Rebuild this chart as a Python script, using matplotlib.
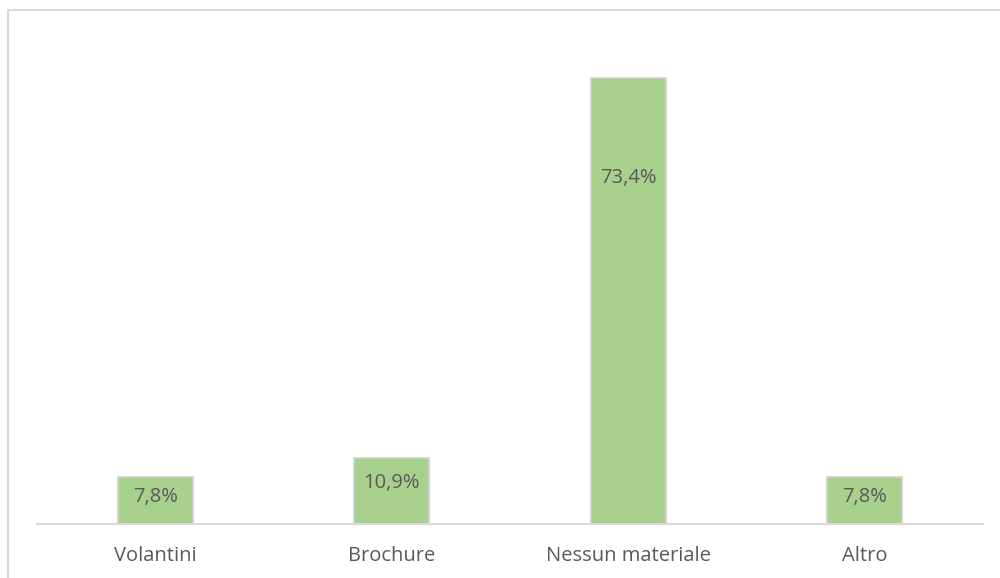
import matplotlib
matplotlib.use("Agg")
import matplotlib.pyplot as plt
from matplotlib.lines import Line2D

# Share of respondents by material received
categories = ["Volantini", "Brochure", "Nessun materiale", "Altro"]
values = [7.8, 10.9, 73.4, 7.8]
labels = ["7,8%", "10,9%", "73,4%", "7,8%"]
# vertical offset (points) of each value label below the bar top
label_offsets = [-15, -18, -72, -15]

TEXT = "#595959"
BAR = "#a9d18e"
GRID = "#d9d9d9"

plt.rcParams["font.family"] = ["Open Sans", "DejaVu Sans"]

fig = plt.figure(figsize=(10, 5.78), dpi=100)
ax = fig.add_axes([0.037, 1 - 524 / 578, 0.946, (524 - 37.9) / 578])

x = range(len(categories))
bars = ax.bar(x, values, width=0.317, color=BAR, edgecolor="#d0d0d0", linewidth=1.2)

for b, lab, off in zip(bars, labels, label_offsets):
    ax.annotate(lab, (b.get_x() + b.get_width() / 2, b.get_height()),
                xytext=(0, off), textcoords="offset points",
                ha="center", va="center", fontsize=14.5, color=TEXT)

ax.set_xlim(-0.5, len(categories) - 0.5)
ax.set_ylim(0, 80)
ax.set_xticks(list(x))
ax.set_xticklabels(categories, fontsize=14.5, color=TEXT)
ax.tick_params(axis="x", length=0, pad=16)
ax.set_yticks([])
for side in ("top", "right", "left"):
    ax.spines[side].set_visible(False)
ax.spines["bottom"].set_color(GRID)
ax.spines["bottom"].set_linewidth(1.5)

# chart area border (left and top edges)
fig.add_artist(Line2D([0.0075, 0.0075, 1.0], [0.0, 1 - 10 / 578, 1 - 10 / 578],
                      transform=fig.transFigure, color=GRID, linewidth=1.5))

fig.savefig("out.png", dpi=100)
